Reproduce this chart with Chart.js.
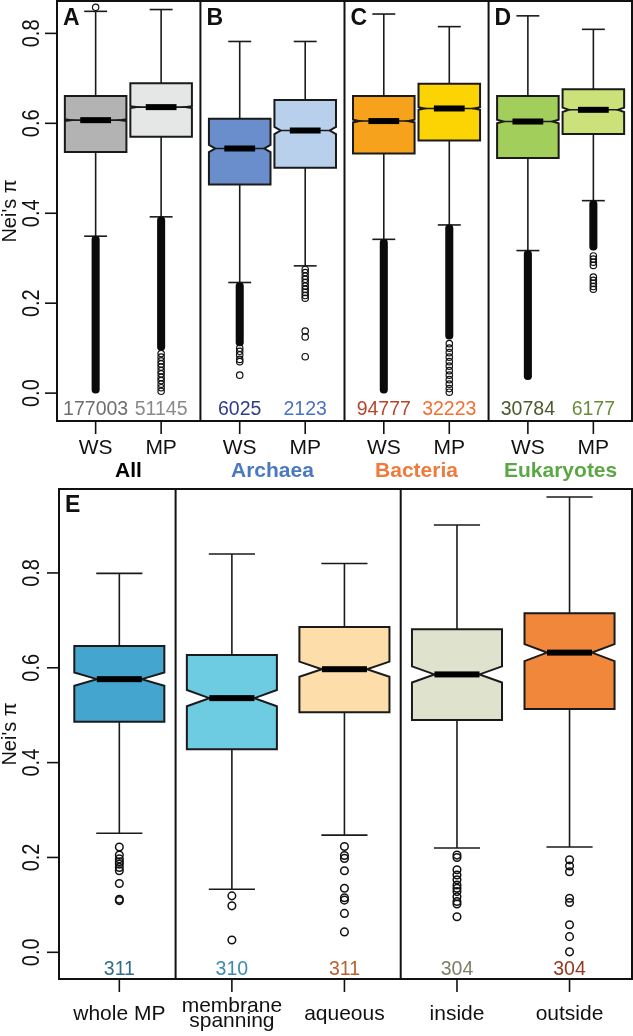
<!DOCTYPE html>
<html>
<head>
<meta charset="utf-8">
<script src="https://cdn.jsdelivr.net/npm/chart.js@4.4.1/dist/chart.umd.min.js"></script>
<style>
  body { margin: 0; background: #fff; }
  #wrap { position: relative; width: 633px; height: 1036px; }
  canvas { position: absolute; left: 0; }
  #topChart { top: 0; }
  #bottomChart { top: 484px; }
</style>
</head>
<body>
<div id="wrap">
  <canvas id="topChart" width="633" height="484"></canvas>
  <canvas id="bottomChart" width="633" height="552"></canvas>
</div>
<script>
const FONT = '"Liberation Sans", Arial, sans-serif';

// ---- panels A-D ----
const topCategories = ['WS', 'MP', 'WS', 'MP', 'WS', 'MP', 'WS', 'MP'];
const topGroups = ['All', 'Archaea', 'Bacteria', 'Eukaryotes'];
const topGroupSizes = [2, 2, 2, 2];
const topLetters = ['A', 'B', 'C', 'D'];
const topCounts = ['177003', '51145', '6025', '2123', '94777', '32223', '30784', '6177'];
const topWhiskerHigh = [0.849, 0.853, 0.782, 0.782, 0.843, 0.815, 0.839, 0.809];
const topQ3 = [0.661, 0.689, 0.610, 0.652, 0.661, 0.688, 0.661, 0.676];
const topMedian = [0.607, 0.636, 0.544, 0.584, 0.605, 0.633, 0.604, 0.630];
const topQ1 = [0.536, 0.570, 0.464, 0.501, 0.533, 0.562, 0.523, 0.576];
const topWhiskerLow = [0.349, 0.392, 0.246, 0.283, 0.342, 0.374, 0.317, 0.428];
const topNotch = [0.002, 0.002, 0.008, 0.008, 0.003, 0.003, 0.004, 0.005];
// runs of outliers so dense they merge into a solid bar
const topDenseLow = [0.0, 0.095, 0.105, null, 0.0, 0.12, 0.03, 0.318];
const topDenseHigh = [0.349, 0.392, 0.246, null, 0.342, 0.374, 0.317, 0.428];
const topOutliers = [
  [0.858],
  [0.088, 0.080, 0.072, 0.065, 0.058, 0.050, 0.043, 0.035, 0.028, 0.020, 0.012, 0.004],
  [0.100, 0.093, 0.085, 0.075, 0.070, 0.040],
  [0.275, 0.268, 0.260, 0.253, 0.246, 0.238, 0.231, 0.224, 0.217, 0.211, 0.138, 0.125, 0.081],
  [],
  [0.110, 0.100, 0.090, 0.080, 0.070, 0.060, 0.050, 0.040, 0.030, 0.020, 0.010, 0.002],
  [],
  [0.305, 0.298, 0.291, 0.284, 0.258, 0.251, 0.244, 0.237, 0.231]
];

// ---- panel E ----
const bottomCategories = [['whole MP'], ['membrane', 'spanning'], ['aqueous'], ['inside'], ['outside']];
const bottomGroupSizes = [1, 2, 2];
const bottomLetters = ['E'];
const bottomCounts = ['311', '310', '311', '304', '304'];
const bottomWhiskerHigh = [0.799, 0.840, 0.820, 0.901, 0.960];
const bottomQ3 = [0.646, 0.627, 0.686, 0.681, 0.715];
const bottomMedian = [0.576, 0.536, 0.597, 0.586, 0.632];
const bottomQ1 = [0.486, 0.428, 0.506, 0.490, 0.513];
const bottomWhiskerLow = [0.251, 0.133, 0.247, 0.220, 0.222];
const bottomNotch = [0.014, 0.017, 0.016, 0.017, 0.018];
const bottomDenseLow = [null, null, null, null, null];
const bottomDenseHigh = [null, null, null, null, null];
const bottomOutliers = [
  [0.222, 0.205, 0.197, 0.191, 0.186, 0.179, 0.172, 0.145, 0.112, 0.109],
  [0.119, 0.098, 0.026],
  [0.223, 0.204, 0.198, 0.172, 0.135, 0.115, 0.110, 0.082, 0.043],
  [0.205, 0.200, 0.174, 0.163, 0.153, 0.142, 0.135, 0.128, 0.117, 0.107, 0.102, 0.075],
  [0.195, 0.182, 0.170, 0.114, 0.105, 0.058, 0.033, 0.001]
];

const yTicks = [0.0, 0.2, 0.4, 0.6, 0.8];
const yTickLabels = ['0.0', '0.2', '0.4', '0.6', '0.8'];
const yTitle = "Nei's \u03c0";

// colours
const topFill = ['#b3b3b3', '#e5e6e6', '#6a8ecb', '#b9d0ed', '#f7a21c', '#fdd403', '#a2cf5b', '#cde17a'];
const topCountColors = ['#6e6e6e', '#8a8a8a', '#2b3d8c', '#4a72c4', '#b4462a', '#f07232', '#4d5a2c', '#6b8a3a'];
const topGroupColors = ['#000000', '#4a78c1', '#f07a3c', '#5ca745'];
const bottomFill = ['#44a5cf', '#6dcbe2', '#fdddaa', '#dfe3cd', '#f1873a'];
const bottomCountColors = ['#2f6d8a', '#3a8cab', '#b8612c', '#7b8068', '#93391f'];

/**
 * x position of each box: groups are separated by an extra gap.
 */
function boxPositions(groupSizes, gap) {
    const pos = [];
    let x = 1;
    groupSizes.forEach(n => {
        for (let k = 0; k < n; k++) {
            pos.push(x);
            x += 1;
        }
        x += gap;
    });
    return pos;
}

function dividerPositions(groupSizes, pos) {
    const out = [];
    let idx = 0;
    for (let g = 0; g < groupSizes.length - 1; g++) {
        idx += groupSizes[g];
        out.push((pos[idx - 1] + pos[idx]) / 2);
    }
    return out;
}

function line(ctx, x1, y1, x2, y2) {
    ctx.beginPath();
    ctx.moveTo(x1, y1);
    ctx.lineTo(x2, y2);
    ctx.stroke();
}

const boxPlugin = {
    id: 'boxes',
    beforeDatasetsDraw(chart) {
        const p = chart.options.plugins.boxes;
        const {ctx, scales: {x, y}} = chart;
        const unit = x.getPixelForValue(1) - x.getPixelForValue(0);
        const hw = p.boxWidth * unit / 2;
        const cw = p.capWidth * unit / 2;
        ctx.save();
        p.positions.forEach((pos, i) => {
            const cx = x.getPixelForValue(pos);
            const yHi = y.getPixelForValue(p.high[i]);
            const yQ3 = y.getPixelForValue(p.q3[i]);
            const yMed = y.getPixelForValue(p.median[i]);
            const yQ1 = y.getPixelForValue(p.q1[i]);
            const yLo = y.getPixelForValue(p.low[i]);
            const nTop = y.getPixelForValue(p.median[i] + p.notch[i]);
            const nBot = y.getPixelForValue(p.median[i] - p.notch[i]);
            const ind = hw * p.notchIndent;

            ctx.strokeStyle = '#1a1a1a';
            ctx.lineWidth = 1.6;
            line(ctx, cx, yQ3, cx, yHi);
            line(ctx, cx - cw, yHi, cx + cw, yHi);
            line(ctx, cx, yQ1, cx, yLo);
            line(ctx, cx - cw, yLo, cx + cw, yLo);

            ctx.beginPath();
            ctx.moveTo(cx - hw, yQ3);
            ctx.lineTo(cx + hw, yQ3);
            ctx.lineTo(cx + hw, nTop);
            ctx.lineTo(cx + hw - ind, yMed);
            ctx.lineTo(cx + hw, nBot);
            ctx.lineTo(cx + hw, yQ1);
            ctx.lineTo(cx - hw, yQ1);
            ctx.lineTo(cx - hw, nBot);
            ctx.lineTo(cx - hw + ind, yMed);
            ctx.lineTo(cx - hw, nTop);
            ctx.closePath();
            ctx.fillStyle = p.fill[i];
            ctx.fill();
            ctx.lineWidth = 2;
            ctx.stroke();

            ctx.lineWidth = 1.6;
            line(ctx, cx - hw + ind, yMed, cx + hw - ind, yMed);
            ctx.fillStyle = '#000';
            ctx.fillRect(cx - hw / 2, yMed - 3, hw, 6);
        });
        ctx.restore();
    }
};

const framePlugin = {
    id: 'frame',
    afterDraw(chart) {
        const p = chart.options.plugins.frame;
        const {ctx, chartArea: a, scales: {x, y}} = chart;
        ctx.save();
        ctx.strokeStyle = '#111';
        ctx.lineWidth = 2;
        ctx.strokeRect(a.left, a.top, a.right - a.left, a.bottom - a.top);
        const starts = [a.left];
        p.dividers.forEach(d => {
            const px = x.getPixelForValue(d);
            line(ctx, px, a.top, px, a.bottom);
            starts.push(px);
        });

        // panel letters
        ctx.fillStyle = '#111';
        ctx.font = 'bold 23px ' + FONT;
        ctx.textAlign = 'left';
        ctx.textBaseline = 'alphabetic';
        p.letters.forEach((l, k) => ctx.fillText(l, starts[k] + 6, a.top + p.letterTop + 16.5));

        // y axis
        ctx.lineWidth = 1.6;
        yTicks.forEach((t, k) => {
            const py = y.getPixelForValue(t);
            line(ctx, a.left - 12, py, a.left, py);
            ctx.save();
            ctx.translate(39, py);
            ctx.rotate(-Math.PI / 2);
            ctx.scale(1, 1.15);
            ctx.font = '20px ' + FONT;
            ctx.textAlign = 'center';
            ctx.fillText(yTickLabels[k], 0, 0);
            ctx.restore();
        });
        ctx.save();
        ctx.translate(16, (a.top + a.bottom) / 2);
        ctx.rotate(-Math.PI / 2);
        ctx.font = '20px ' + FONT;
        ctx.textAlign = 'center';
        ctx.fillText(yTitle, 0, 0);
        ctx.restore();

        // x axis ticks, labels and counts
        ctx.textAlign = 'center';
        p.positions.forEach((pos, i) => {
            const px = x.getPixelForValue(pos);
            line(ctx, px, a.bottom, px, a.bottom + 13);
            ctx.fillStyle = '#111';
            ctx.font = p.labelFont + 'px ' + FONT;
            const lab = [].concat(p.categories[i]);
            const base = lab.length > 1 ? p.labelBaseline - 8 : p.labelBaseline;
            lab.forEach((s, j) => ctx.fillText(s, px, a.bottom + base + j * 15));
            ctx.fillStyle = p.countColors[i];
            ctx.font = p.countFont + 'px ' + FONT;
            ctx.fillText(p.counts[i], px, a.bottom + p.countBaseline);
        });

        // group names under the axis
        let idx = 0;
        ctx.font = 'bold 21px ' + FONT;
        (p.groups || []).forEach((g, k) => {
            const n = p.groupSizes[k];
            const mid = (x.getPixelForValue(p.positions[idx]) + x.getPixelForValue(p.positions[idx + n - 1])) / 2;
            ctx.fillStyle = p.groupColors[k];
            ctx.fillText(g, mid, a.bottom + 56);
            idx += n;
        });
        ctx.restore();
    }
};

function makePanel(canvasId, d) {
    const outlierPoints = [];
    const densePoints = [];
    d.positions.forEach((pos, i) => {
        d.outliers[i].forEach(v => outlierPoints.push({x: pos, y: v}));
        if (d.denseLow[i] !== null) densePoints.push({x: pos, y: [d.denseLow[i], d.denseHigh[i]]});
    });
    const ctx = document.getElementById(canvasId).getContext('2d');
    return new Chart(ctx, {
        type: 'scatter',
        data: {
            datasets: [{
                type: 'bar',
                data: densePoints,
                backgroundColor: '#0a0a0a',
                barThickness: d.pointRadius * 2 + 1,
                borderRadius: d.pointRadius + 0.5,
                borderSkipped: false,
                grouped: false,
                order: 2
            }, {
                type: 'scatter',
                data: outlierPoints,
                pointRadius: d.pointRadius,
                pointBorderWidth: d.pointBorder,
                pointBorderColor: '#111',
                pointBackgroundColor: 'rgba(0,0,0,0)',
                order: 1
            }]
        },
        options: {
            responsive: false,
            animation: false,
            devicePixelRatio: 1,
            events: [],
            layout: {padding: d.padding, autoPadding: false},
            scales: {
                x: {type: 'linear', display: false, offset: false, grid: {offset: false}, min: d.xMin, max: d.xMax},
                y: {type: 'linear', display: false, offset: false, beginAtZero: false, min: d.yMin, max: d.yMax}
            },
            plugins: {
                legend: {display: false},
                tooltip: {enabled: false},
                boxes: {
                    positions: d.positions, high: d.high, q3: d.q3, median: d.median, q1: d.q1, low: d.low,
                    notch: d.notch, fill: d.fill, boxWidth: d.boxWidth, capWidth: d.capWidth,
                    notchIndent: d.notchIndent
                },
                frame: {
                    positions: d.positions, dividers: d.dividers, letters: d.letters, letterTop: d.letterTop,
                    categories: d.categories, counts: d.counts, countColors: d.countColors,
                    groups: d.groups, groupSizes: d.groupSizes, groupColors: d.groupColors,
                    labelFont: d.labelFont, labelBaseline: d.labelBaseline,
                    countFont: d.countFont, countBaseline: d.countBaseline
                }
            }
        },
        plugins: [boxPlugin, framePlugin]
    });
}

const topPos = boxPositions(topGroupSizes, 0.2);
makePanel('topChart', {
    positions: topPos, dividers: dividerPositions(topGroupSizes, topPos),
    xMin: 0.41, xMax: 9.19, yMin: -0.062, yMax: 0.872,
    padding: {left: 57, top: 1, right: 1, bottom: 63},
    high: topWhiskerHigh, q3: topQ3, median: topMedian, q1: topQ1, low: topWhiskerLow,
    notch: topNotch, denseLow: topDenseLow, denseHigh: topDenseHigh, outliers: topOutliers,
    fill: topFill, boxWidth: 0.94, capWidth: 0.35, notchIndent: 0.2, pointRadius: 3.2, pointBorder: 1.2,
    letters: topLetters, letterTop: 7, categories: topCategories, counts: topCounts, countColors: topCountColors,
    groups: topGroups, groupSizes: topGroupSizes, groupColors: topGroupColors,
    labelFont: 21, labelBaseline: 33, countFont: 19.5, countBaseline: -6
});

const bottomPos = boxPositions(bottomGroupSizes, 0);
makePanel('bottomChart', {
    positions: bottomPos, dividers: dividerPositions(bottomGroupSizes, bottomPos),
    xMin: 0.464, xMax: 5.555, yMin: -0.0563, yMax: 0.977,
    padding: {left: 59, top: 5, right: 1, bottom: 57},
    high: bottomWhiskerHigh, q3: bottomQ3, median: bottomMedian, q1: bottomQ1, low: bottomWhiskerLow,
    notch: bottomNotch, denseLow: bottomDenseLow, denseHigh: bottomDenseHigh, outliers: bottomOutliers,
    fill: bottomFill, boxWidth: 0.8, capWidth: 0.41, notchIndent: 0.5, pointRadius: 3.8, pointBorder: 1.5,
    letters: bottomLetters, letterTop: 6, categories: bottomCategories, counts: bottomCounts, countColors: bottomCountColors,
    groups: null, groupSizes: bottomGroupSizes, groupColors: [],
    labelFont: 21, labelBaseline: 41, countFont: 19.5, countBaseline: -4
});
</script>
</body>
</html>
